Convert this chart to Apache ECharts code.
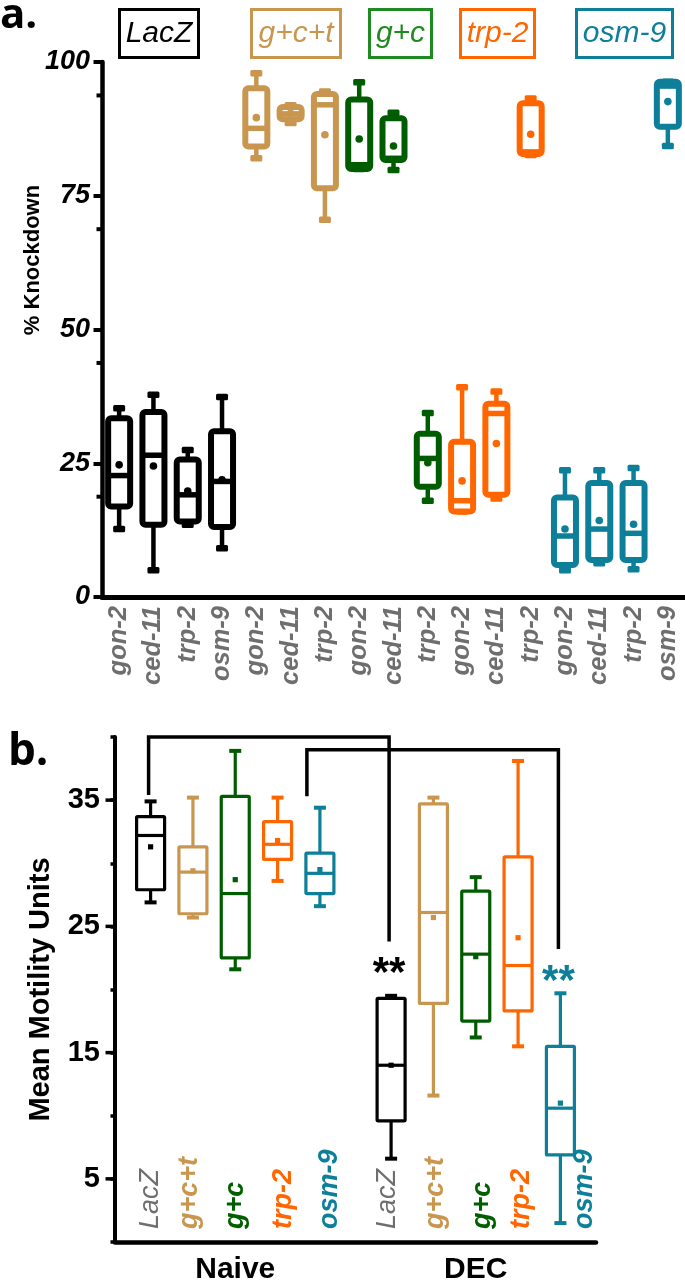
<!DOCTYPE html>
<html><head><meta charset="utf-8">
<script src="https://cdn.jsdelivr.net/npm/echarts@6/dist/echarts.min.js"></script>
<style>html,body{margin:0;padding:0;background:#fff}#c{width:685px;height:1281px}</style>
</head><body><div id="c"></div>
<script>
// ---------------- DATA: panel a (% Knockdown) ----------------
const aTargets   = ['gon-2','ced-11','trp-2','osm-9','gon-2','ced-11','trp-2','gon-2','ced-11','trp-2','gon-2','ced-11','trp-2','gon-2','ced-11','trp-2','osm-9'];
const aTreatment = ['LacZ','LacZ','LacZ','LacZ','g+c+t','g+c+t','g+c+t','g+c','g+c','g+c','trp-2','trp-2','trp-2','osm-9','osm-9','osm-9','osm-9'];
const aMin    = [12.7,  5.0, 13.5,  9.1, 82.0, 88.6, 70.5, 80.0, 79.8, 18.0, 16.0, 18.4, 82.6,  5.0,  6.3,  5.2, 84.3];
const aQ1     = [16.9, 13.5, 14.1, 13.1, 84.2, 89.3, 76.4, 80.0, 81.7, 20.6, 16.0, 19.1, 82.8,  6.0,  6.9,  6.9, 87.9];
const aMedian = [22.7, 26.5, 19.1, 21.6, 87.6, 90.3, 92.0, 80.8, 82.0, 25.9, 18.0, 34.3, 83.2, 11.4, 12.7, 11.9, 95.5];
const aQ3     = [33.4, 34.6, 25.7, 31.0, 95.1, 91.6, 94.0, 93.0, 89.5, 30.5, 29.0, 36.1, 92.3, 18.6, 21.3, 21.3, 96.3];
const aMax    = [35.3, 37.8, 27.5, 37.4, 97.9, 91.9, 94.5, 96.2, 90.5, 34.4, 39.2, 38.4, 93.2, 23.7, 23.7, 24.1, 96.3];
const aMean   = [24.7, 24.5, 19.8, 21.9, 89.6, 90.4, 86.4, 85.6, 84.3, 25.1, 21.7, 28.7, 86.5, 12.7, 14.3, 13.6, 92.6];
const aMinorTicks = [18.75, 43.75, 68.75, 93.75];
const legendNames = ['LacZ','g+c+t','g+c','trp-2','osm-9'];

// ---------------- DATA: panel b (Mean Motility Units) ----------------
const bConditions = ['Naive','DEC'];
const bTreatments = ['LacZ','g+c+t','g+c','trp-2','osm-9'];
const bNaiveMin    = [26.9, 25.7, 21.6, 28.6, 26.6];
const bNaiveQ1     = [27.9, 26.0, 22.5, 30.3, 27.6];
const bNaiveMedian = [32.2, 29.3, 27.6, 31.5, 29.2];
const bNaiveQ3     = [33.7, 31.3, 35.3, 33.3, 30.8];
const bNaiveMax    = [34.9, 35.2, 38.9, 35.2, 34.4];
const bNaiveMean   = [31.3, 29.4, 28.7, 31.8, 29.5];
const bDecMin      = [ 6.6, 11.6, 16.2, 15.5,  1.5];
const bDecQ1       = [ 9.6, 18.9, 17.5, 18.3,  6.9];
const bDecMedian   = [14.0, 26.1, 22.8, 21.9, 10.6];
const bDecQ3       = [19.3, 34.7, 27.8, 30.5, 15.5];
const bDecMax      = [19.5, 35.2, 28.9, 38.1, 19.7];
const bDecMean     = [14.0, 25.7, 22.6, 24.1, 11.0];
const bMajorTicks  = [5, 15, 25, 35];
const bBracketTreatment = ['LacZ', 'osm-9'];
const bBracketTop       = [40.0, 39.0];
const bBracketLeftEnd   = [35.4, 35.3];
const bBracketRightEnd  = [23.8, 23.2];
const bBracketStars     = ['**', '**'];

// ---------------- STYLE / LAYOUT ----------------
const FONT = '"Liberation Sans", Arial, Helvetica, sans-serif';
const BOX_COLOR = {'LacZ':'#000000','g+c+t':'#c8964f','g+c':'#005c00','trp-2':'#ff6600','osm-9':'#0d7f99'};
const LEGEND_COLOR = {'LacZ':'#000000','g+c+t':'#c8964f','g+c':'#1f8a1f','trp-2':'#ff6600','osm-9':'#0d7f99'};
const LABEL_COLOR = {'LacZ':'#6e6e6e','g+c+t':'#c8964f','g+c':'#006000','trp-2':'#ff6600','osm-9':'#0d7f99'};
const legendBoxes = [[118,200],[250,342],[368,433],[459,536],[575,674]];
const bStep = 0.176;                       // spacing of boxes within a condition band (fraction of band)
const bOffset = s => (s - 2) * bStep;
const bLabelNudge = [[0,-3,0,6,10],[-4,2,7,3,24]];
const bracketNudge = [[-2,-2],[-13,-2]];

// ---------------- build series data ----------------
const aKeys = aTargets.map((t, i) => t + '#' + i);
const aBoxData = aTargets.map((t, i) => [i, aMin[i], aQ1[i], aMedian[i], aQ3[i], aMax[i], aMean[i], 0, aTreatment[i]]);
const bBoxData = [];
[[bNaiveMin,bNaiveQ1,bNaiveMedian,bNaiveQ3,bNaiveMax,bNaiveMean],[bDecMin,bDecQ1,bDecMedian,bDecQ3,bDecMax,bDecMean]].forEach((arr, c) => {
  bTreatments.forEach((t, s) => bBoxData.push([c, arr[0][s], arr[1][s], arr[2][s], arr[3][s], arr[4][s], arr[5][s], s, t]));
});

function boxRender(o) {
  return function (params, api) {
    const cat = api.value(0);
    const sub = api.value(7);
    const color = BOX_COLOR[o.colorOf(params.dataIndex)];
    const band = api.size([1, 0])[0];
    const cx = api.coord([cat, 0])[0] + o.offset(sub) * band;
    const Y = d => api.coord([cat, api.value(d)])[1];
    const yMin = Y(1), yQ1 = Y(2), yMed = Y(3), yQ3 = Y(4), yMax = Y(5), yMean = Y(6);
    const ch = [
      {type:'line', shape:{x1:cx, y1:yMax, x2:cx, y2:yQ3}, style:{stroke:color, lineWidth:o.whiskerW}},
      {type:'line', shape:{x1:cx, y1:yQ1, x2:cx, y2:yMin}, style:{stroke:color, lineWidth:o.whiskerW}},
      {type:'rect', shape:{x:cx - o.capW/2, y:yMax - o.capH/2, width:o.capW, height:o.capH, r:o.capR}, style:{fill:color}},
      {type:'rect', shape:{x:cx - o.capW/2, y:yMin - o.capH/2, width:o.capW, height:o.capH, r:o.capR}, style:{fill:color}},
      {type:'rect', shape:{x:cx - o.boxW/2, y:yQ3, width:o.boxW, height:Math.max(0.5, yQ1 - yQ3), r:o.r},
        style:{fill:'#fff', stroke:color, lineWidth:o.lw, lineJoin:'round'}},
      {type:'line', shape:{x1:cx - o.boxW/2, y1:yMed, x2:cx + o.boxW/2, y2:yMed}, style:{stroke:color, lineWidth:o.medW}}
    ];
    if (o.meanShape === 'circle') ch.push({type:'circle', shape:{cx:cx, cy:yMean, r:o.meanR}, style:{fill:color}});
    else ch.push({type:'rect', shape:{x:cx - o.meanR, y:yMean - o.meanR, width:2*o.meanR, height:2*o.meanR}, style:{fill:color}});
    return {type:'group', children:ch};
  };
}

function tickRender(len, lw) {
  return function (params, api) {
    const y = api.coord([0, api.value(1)])[1];
    const x0 = params.coordSys.x;
    return {type:'line', shape:{x1:x0 - len, y1:y, x2:x0, y2:y}, style:{stroke:'#000', lineWidth:lw}};
  };
}

const chart = echarts.init(document.getElementById('c'), null, {renderer:'canvas'});

const graphics = [
  {type:'text', x:0, y:16, style:{text:'a.', font:'bold 42px "Open Sans", sans-serif', fill:'#000', textVerticalAlign:'middle', verticalAlign:'middle'}},
  {type:'text', x:8, y:752, style:{text:'b.', font:'bold 44px "Open Sans", sans-serif', fill:'#000', textVerticalAlign:'middle', verticalAlign:'middle'}},
  {type:'text', x:33, y:260, rotation:Math.PI/2, style:{text:'% Knockdown', font:'bold 22px ' + FONT, fill:'#000',
    textAlign:'center', align:'center', textVerticalAlign:'middle', verticalAlign:'middle'}}
];
legendNames.forEach((n, i) => {
  const [x0, x1] = legendBoxes[i];
  graphics.push({type:'rect', shape:{x:x0 + 1.5, y:9.5, width:x1 - x0 - 3, height:48},
    style:{fill:'none', stroke:LEGEND_COLOR[n], lineWidth:3}});
  graphics.push({type:'text', x:(x0 + x1)/2, y:34, style:{text:n, font:'italic 30px ' + FONT, fill:LEGEND_COLOR[n],
    textAlign:'center', align:'center', textVerticalAlign:'middle', verticalAlign:'middle'}});
});

const option = {
  animation:false,
  backgroundColor:'#fff',
  graphic:graphics,
  grid:[
    {left:102, top:62, width:583, height:535, containLabel:false, outerBoundsMode:'none'},
    {left:115, top:737, width:481, height:505, containLabel:false, outerBoundsMode:'none'}
  ],
  xAxis:[
    {gridIndex:0, type:'category', data:aKeys, boundaryGap:true,
      axisLine:{show:true, onZero:false, lineStyle:{color:'#000', width:5}},
      axisTick:{show:false}, splitLine:{show:false},
      axisLabel:{interval:0, rotate:90, margin:9, formatter:(v, i) => aTargets[i],
        fontSize:25.5, fontStyle:'italic', fontWeight:'bold', color:'#6e6e6e', fontFamily:FONT}},
    {gridIndex:1, type:'category', data:bConditions, boundaryGap:true,
      axisLine:{show:true, onZero:false, lineStyle:{color:'#000', width:4.5}},
      axisTick:{show:false}, splitLine:{show:false},
      axisLabel:{interval:0, margin:13, fontSize:30, fontWeight:'bold', color:'#000', fontFamily:FONT}}
  ],
  yAxis:[
    {gridIndex:0, type:'value', min:0, max:100, interval:25,
      axisLine:{show:true, lineStyle:{color:'#000', width:4.5}},
      axisTick:{show:true, length:8.5, lineStyle:{color:'#000', width:4}},
      splitLine:{show:false},
      axisLabel:{margin:12, fontSize:27, fontStyle:'italic', fontWeight:'bold', color:'#000', fontFamily:FONT}},
    {gridIndex:1, type:'value', min:0, max:40, interval:5,
      axisLine:{show:true, lineStyle:{color:'#000', width:4}},
      axisTick:{show:true, length:4.5, lineStyle:{color:'#000', width:3.5}},
      splitLine:{show:false},
      axisLabel:{margin:15, fontSize:29, fontWeight:'bold', color:'#000', fontFamily:FONT,
        formatter:v => (bMajorTicks.indexOf(v) >= 0 ? String(v) : '')},
      name:'Mean Motility Units', nameLocation:'middle', nameGap:60,
      nameTextStyle:{fontSize:29, fontWeight:'bold', color:'#000', fontFamily:FONT}}
  ],
  series:[
    {type:'custom', name:'minorA', xAxisIndex:0, yAxisIndex:0, clip:false, silent:true,
      data:aMinorTicks.map(v => [0, v]), encode:{x:0, y:1}, renderItem:tickRender(5.5, 4)},
    {type:'custom', name:'majorB', xAxisIndex:1, yAxisIndex:1, clip:false, silent:true,
      data:bMajorTicks.map(v => [0, v]), encode:{x:0, y:1}, renderItem:tickRender(9.5, 3.5)},
    {type:'custom', name:'knockdown', xAxisIndex:0, yAxisIndex:0, clip:false,
      data:aBoxData, encode:{x:0, y:[1,2,3,4,5,6]},
      renderItem:boxRender({colorOf:i => aTreatment[i], offset:() => 0, boxW:22, lw:6, r:3, capW:12, capH:6.5, capR:1.5,
        whiskerW:4.5, medW:5.5, meanShape:'circle', meanR:3.8})},
    {type:'custom', name:'motility', xAxisIndex:1, yAxisIndex:1, clip:false,
      data:bBoxData, encode:{x:0, y:[1,2,3,4,5,6]},
      renderItem:boxRender({colorOf:i => bBoxData[i][8], offset:bOffset, boxW:28, lw:3.2, r:1, capW:12, capH:4, capR:0,
        whiskerW:3.2, medW:3.2, meanShape:'rect', meanR:2.6})},
    {type:'custom', name:'bLabels', xAxisIndex:1, yAxisIndex:1, clip:false, silent:true,
      data:bBoxData.map(d => [d[0], 0, d[7]]), encode:{x:0, y:1},
      renderItem:function (params, api) {
        const c = api.value(0), s = api.value(2);
        const band = api.size([1, 0])[0];
        const p = api.coord([c, 0]);
        const t = bTreatments[s];
        return {type:'text', x:p[0] + bOffset(s) * band + bLabelNudge[c][s], y:p[1] - 13, rotation:Math.PI/2,
          style:{text:t, fill:LABEL_COLOR[t], font:'italic ' + (s === 0 ? 'normal' : 'bold') + ' 27px ' + FONT,
            textAlign:'left', align:'left', textVerticalAlign:'middle', verticalAlign:'middle'}};
      }},
    {type:'custom', name:'brackets', xAxisIndex:1, yAxisIndex:1, clip:false, silent:true,
      data:bBracketTop.map((v, i) => [0, v, i]), encode:{x:0, y:1},
      renderItem:function (params, api) {
        const i = api.value(2);
        const t = bBracketTreatment[i];
        const s = bTreatments.indexOf(t);
        const band = api.size([1, 0])[0];
        const xL = api.coord([0, 0])[0] + bOffset(s) * band + bracketNudge[i][0];
        const xR = api.coord([1, 0])[0] + bOffset(s) * band + bracketNudge[i][1];
        const yT = api.coord([0, bBracketTop[i]])[1];
        const yL = api.coord([0, bBracketLeftEnd[i]])[1];
        const yR = api.coord([0, bBracketRightEnd[i]])[1];
        return {type:'group', children:[
          {type:'polyline', shape:{points:[[xL, yL], [xL, yT], [xR, yT], [xR, yR]]},
            style:{stroke:'#000', lineWidth:3.5, fill:'none', lineJoin:'miter'}},
          {type:'text', x:xR, y:yR + 12, style:{text:bBracketStars[i], fill:BOX_COLOR[t], font:'bold 42px ' + FONT,
            textAlign:'center', align:'center', textVerticalAlign:'top', verticalAlign:'top'}}
        ]};
      }}
  ]
};
chart.setOption(option);
</script>
</body></html>
